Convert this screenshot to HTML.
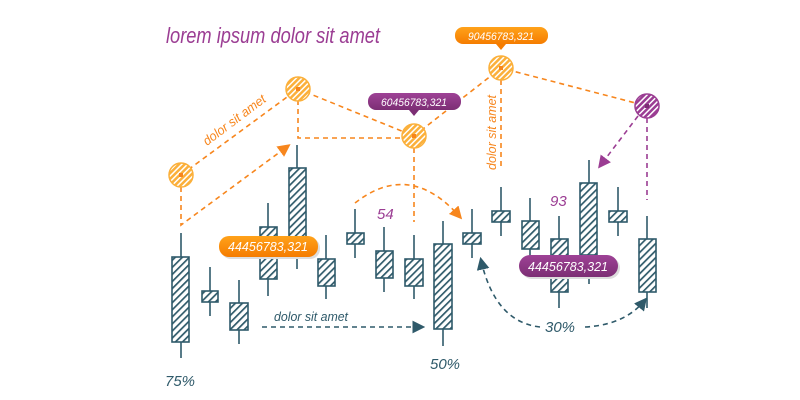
<!DOCTYPE html>
<html><head><meta charset="utf-8"><style>
html,body{margin:0;padding:0;background:#fff;width:800px;height:400px;overflow:hidden}
text{font-family:"Liberation Sans",sans-serif;font-style:italic}
</style></head><body>
<svg width="800" height="400" viewBox="0 0 800 400" xmlns="http://www.w3.org/2000/svg">
<defs>
<pattern id="h" width="5" height="5" patternUnits="userSpaceOnUse" patternTransform="rotate(45)">
<rect width="5" height="5" fill="#fff"/><rect width="1.7" height="5" fill="#2f5a6a"/></pattern>
<pattern id="ho" width="4" height="4" patternUnits="userSpaceOnUse" patternTransform="rotate(45)">
<rect width="4" height="4" fill="#fbb03b"/><rect width="1.5" height="4" fill="#fff"/></pattern>
<pattern id="hp" width="4" height="4" patternUnits="userSpaceOnUse" patternTransform="rotate(45)">
<rect width="4" height="4" fill="#9b3d93"/><rect width="1.5" height="4" fill="#fff"/></pattern>
<linearGradient id="go" x1="0" y1="0" x2="0" y2="1"><stop offset="0" stop-color="#ffa21a"/><stop offset="1" stop-color="#f57c00"/></linearGradient>
<linearGradient id="gp" x1="0" y1="0" x2="0" y2="1"><stop offset="0" stop-color="#9e4296"/><stop offset="1" stop-color="#7c2e74"/></linearGradient>
<marker id="ao" markerWidth="8" markerHeight="8" refX="6" refY="4" orient="auto"><path d="M0,0 L8,4 L0,8 Z" fill="#f7861d"/></marker>
<marker id="an" markerWidth="8" markerHeight="8" refX="6" refY="4" orient="auto"><path d="M0,0 L8,4 L0,8 Z" fill="#2f5a6a"/></marker>
<marker id="ap" markerWidth="8" markerHeight="8" refX="6" refY="4" orient="auto"><path d="M0,0 L8,4 L0,8 Z" fill="#9b3d93"/></marker>
</defs>
<text x="166" y="43" font-size="22" fill="#9b3d93" textLength="214" lengthAdjust="spacingAndGlyphs">lorem ipsum dolor sit amet</text>

<g stroke="#f7861d" stroke-width="1.6" stroke-dasharray="5,4" fill="none">
<path d="M181,175 L298,89 L414,136 L501,68 L647,106"/>
<path d="M181,187 L181,225 L288,146" marker-end="url(#ao)"/>
<path d="M298,100 L298,138 L402,138"/>
<path d="M414,148 L414,222"/>
<path d="M501,80 L501,170"/>
<path d="M355,203 Q410,160 460,217" marker-end="url(#ao)"/>
</g>
<g stroke="#9b3d93" stroke-width="1.6" stroke-dasharray="5,4" fill="none">
<path d="M647,118 L647,200"/>
<path d="M638,116 L600,166" marker-end="url(#ap)"/>
</g>
<g stroke="#2f5a6a" stroke-width="1.6" stroke-dasharray="5,4" fill="none">
<path d="M262,327 L422,327" marker-end="url(#an)"/>
<path d="M540,327 Q495,322 481,260" marker-end="url(#an)"/>
<path d="M585,327 Q625,325 645,300" marker-end="url(#an)"/>
</g>

<g stroke="#2f5a6a" stroke-width="1.6" fill="url(#h)">
<line x1="181" y1="233" x2="181" y2="358"/><rect x="172" y="257" width="17" height="85"/>
<line x1="210" y1="267" x2="210" y2="316"/><rect x="202" y="291" width="16" height="11"/>
<line x1="239" y1="280" x2="239" y2="344"/><rect x="230" y="303" width="18" height="27"/>
<line x1="268" y1="203" x2="268" y2="296"/><rect x="260" y="227" width="17" height="52"/>
<line x1="297" y1="145" x2="297" y2="269"/><rect x="289" y="168" width="17" height="72"/>
<line x1="326" y1="235" x2="326" y2="299"/><rect x="318" y="259" width="17" height="27"/>
<line x1="355" y1="209" x2="355" y2="258"/><rect x="347" y="233" width="17" height="11"/>
<line x1="384" y1="227" x2="384" y2="292"/><rect x="376" y="251" width="17" height="27"/>
<line x1="414" y1="235" x2="414" y2="299"/><rect x="405" y="259" width="18" height="27"/>
<line x1="443" y1="221" x2="443" y2="346"/><rect x="434" y="244" width="18" height="85"/>
<line x1="472" y1="209" x2="472" y2="258"/><rect x="463" y="233" width="18" height="11"/>
<line x1="501" y1="187" x2="501" y2="236"/><rect x="492" y="211" width="18" height="11"/>
<line x1="530" y1="198" x2="530" y2="265"/><rect x="522" y="221" width="17" height="28"/>
<line x1="559" y1="216" x2="559" y2="308"/><rect x="551" y="239" width="17" height="53"/>
<line x1="589" y1="160" x2="589" y2="284"/><rect x="580" y="183" width="17" height="72"/>
<line x1="618" y1="187" x2="618" y2="236"/><rect x="609" y="211" width="18" height="11"/>
<line x1="647" y1="216" x2="647" y2="308"/><rect x="639" y="239" width="17" height="53"/>
</g>

<g stroke="#fbb03b" stroke-width="1.5">
<circle cx="181" cy="175" r="12" fill="url(#ho)"/>
<circle cx="298" cy="89" r="12" fill="url(#ho)"/>
<circle cx="414" cy="136" r="12" fill="url(#ho)"/>
<circle cx="501" cy="68" r="12" fill="url(#ho)"/>
</g>
<circle cx="647" cy="106" r="12" fill="url(#hp)" stroke="#9b3d93" stroke-width="1.5"/>
<g fill="#f7861d"><rect x="179" y="173" width="4" height="4"/><rect x="296" y="87" width="4" height="4"/><rect x="412" y="134" width="4" height="4"/><rect x="499" y="66" width="4" height="4"/></g>
<rect x="645" y="104" width="4" height="4" fill="#7c2e74"/>

<rect x="221" y="238" width="99" height="21" rx="10" fill="#ddd"/>
<rect x="219" y="236" width="99" height="21" rx="10" fill="url(#go)"/>
<text x="268" y="251" font-size="13" fill="#fff" text-anchor="middle" textLength="80" lengthAdjust="spacingAndGlyphs">44456783,321</text>
<rect x="521" y="257" width="99" height="22" rx="11" fill="#ddd"/>
<rect x="519" y="255" width="99" height="22" rx="11" fill="url(#gp)"/>
<text x="568" y="271" font-size="13" fill="#fff" text-anchor="middle" textLength="80" lengthAdjust="spacingAndGlyphs">44456783,321</text>
<rect x="368" y="93" width="93" height="17" rx="8" fill="url(#gp)"/>
<path d="M409,110 L414,116 L419,110 Z" fill="#7c2e74"/>
<text x="414" y="106" font-size="11" fill="#fff" text-anchor="middle" textLength="66" lengthAdjust="spacingAndGlyphs">60456783,321</text>
<rect x="455" y="27" width="93" height="17" rx="8" fill="url(#go)"/>
<path d="M496,44 L501,50 L506,44 Z" fill="#f57c00"/>
<text x="501" y="40" font-size="11" fill="#fff" text-anchor="middle" textLength="66" lengthAdjust="spacingAndGlyphs">90456783,321</text>

<text x="0" y="0" font-size="13" fill="#f7861d" transform="translate(207,146) rotate(-37)" textLength="75" lengthAdjust="spacingAndGlyphs">dolor sit amet</text>
<text x="0" y="0" font-size="13" fill="#f7861d" transform="translate(496,170) rotate(-90)" textLength="75" lengthAdjust="spacingAndGlyphs">dolor sit amet</text>
<text x="274" y="321" font-size="13" fill="#2f5a6a" textLength="74" lengthAdjust="spacingAndGlyphs">dolor sit amet</text>
<text x="165" y="386" font-size="15" fill="#2f5a6a">75%</text>
<text x="430" y="369" font-size="15" fill="#2f5a6a">50%</text>
<text x="545" y="332" font-size="15" fill="#2f5a6a">30%</text>
<text x="377" y="219" font-size="15" fill="#9b3d93">54</text>
<text x="550" y="206" font-size="15" fill="#9b3d93">93</text>
</svg>
</body></html>
